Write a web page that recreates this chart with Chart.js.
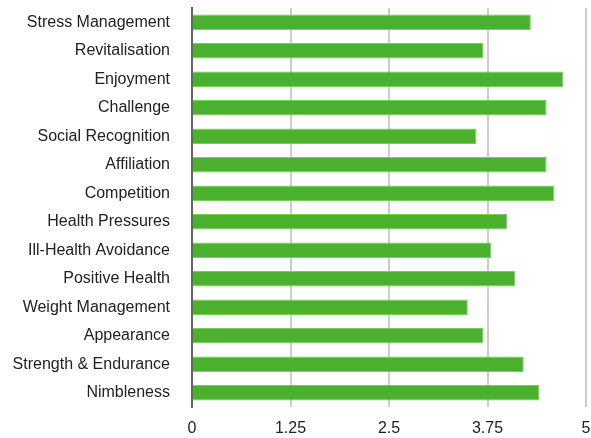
<!DOCTYPE html>
<html>
<head>
<meta charset="utf-8">
<script src="https://cdn.jsdelivr.net/npm/chart.js@4"></script>
<style>
html,body{margin:0;padding:0;background:#fff;}
#wrap{width:591px;height:438px;}
</style>
</head>
<body>
<div id="wrap"><canvas id="c" width="591" height="438"></canvas></div>
<script>
const categories = ["Stress Management","Revitalisation","Enjoyment","Challenge","Social Recognition","Affiliation","Competition","Health Pressures","Ill-Health Avoidance","Positive Health","Weight Management","Appearance","Strength & Endurance","Nimbleness"];
const values = [4.3,3.7,4.71,4.5,3.61,4.5,4.6,4.0,3.8,4.1,3.5,3.7,4.21,4.41];
const xTicks = [0,1.25,2.5,3.75,5];

new Chart(document.getElementById('c'), {
  type: 'bar',
  data: {
    labels: categories,
    datasets: [{
      data: values,
      backgroundColor: '#4AB02E',
      borderColor: '#7ACF5C',
      borderWidth: 1,
      borderSkipped: 'left',
      categoryPercentage: 1,
      barPercentage: 0.54
    }]
  },
  options: {
    indexAxis: 'y',
    responsive: false,
    animation: false,
    layout: { padding: { top: 8, right: 5, left: 0, bottom: 0 } },
    plugins: { legend: { display: false }, tooltip: { enabled: false } },
    scales: {
      x: {
        min: 0, max: 5,
        afterBuildTicks: s => { s.ticks = xTicks.map(v => ({ value: v })); },
        grid: { color: '#cccccc', lineWidth: 2, drawTicks: false },
        border: { display: false },
        ticks: { color: '#222', font: { family: 'Liberation Sans, Arial, sans-serif', size: 16 }, padding: 12, callback: v => String(v) },
        afterFit: s => { s.height = 31; s.paddingLeft = 0; s.paddingRight = 0; }
      },
      y: {
        grid: { display: false, drawTicks: false },
        border: { display: true, color: '#666', width: 2 },
        ticks: { color: '#222', font: { family: 'Liberation Sans, Arial, sans-serif', size: 16 }, padding: 22 },
        afterFit: s => { s.width = 192; s.paddingTop = 0; s.paddingBottom = 0; }
      }
    }
  }
});
</script>
</body>
</html>
